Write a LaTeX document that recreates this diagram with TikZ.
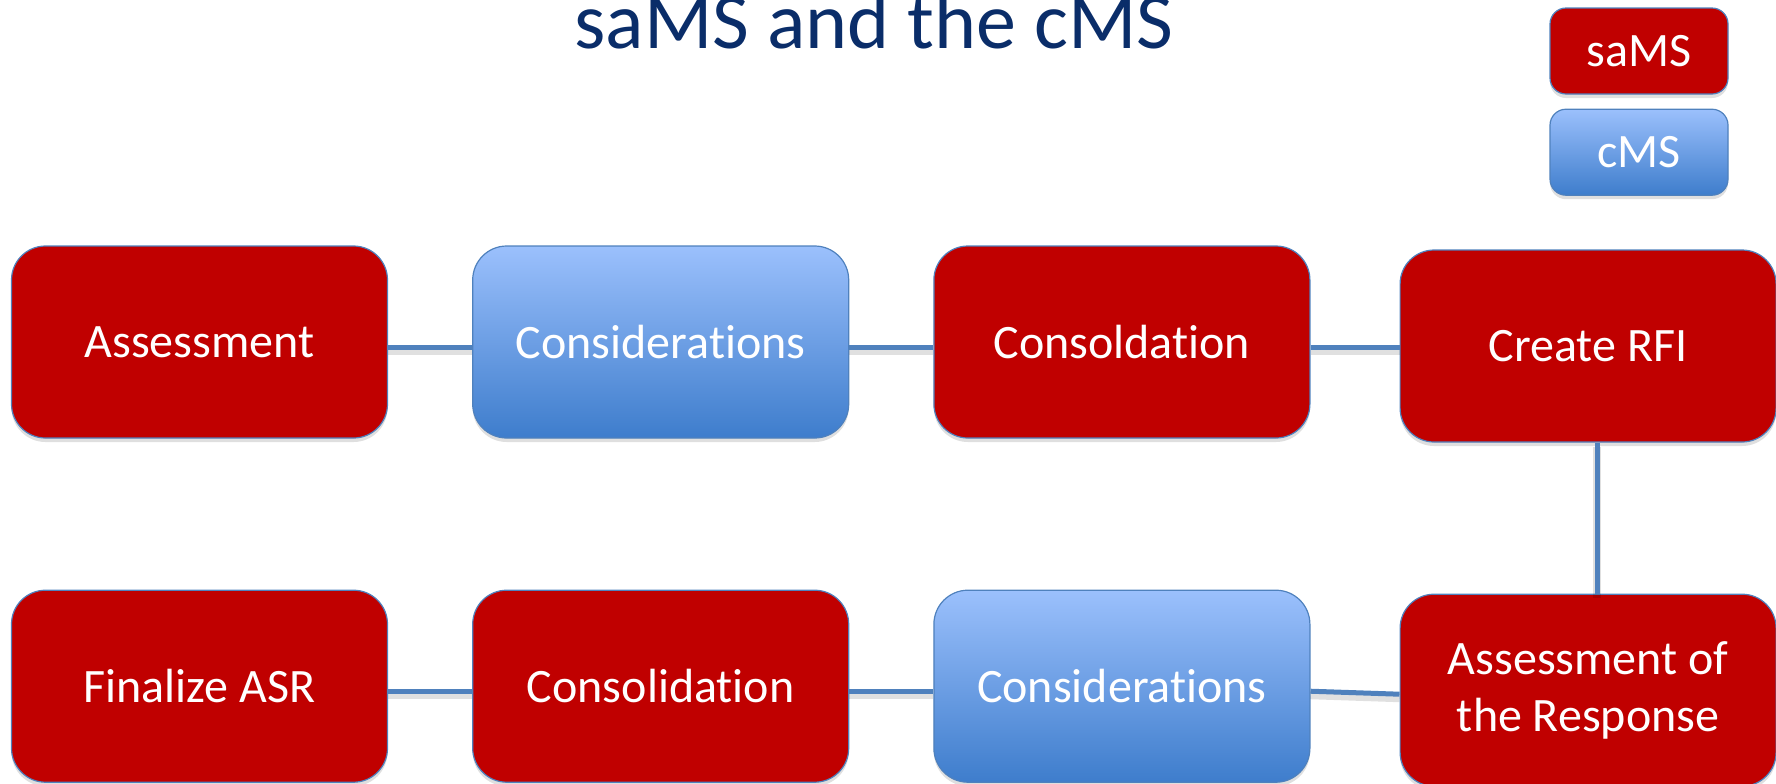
\documentclass[tikz,border=0pt]{standalone}
\usepackage{fontspec}
\setmainfont{Carlito}[Ligatures=NoCommon]
\usetikzlibrary{arrows.meta,positioning,shapes,shadows}

\definecolor{samsred}{HTML}{C00000}
\definecolor{cmstop}{RGB}{155,192,252}
\definecolor{cmsbot}{RGB}{62,125,204}
\definecolor{edgeblue}{RGB}{79,129,189}
\definecolor{titleblue}{RGB}{10,45,105}

\begin{document}
\begin{tikzpicture}[
  >=Latex,
  box/.style={draw=edgeblue, line width=0.6pt, rounded corners=17pt,
    minimum width=188pt, minimum height=96pt, align=center,
    text=white, font=\fontsize{24}{28.5}\selectfont,
    drop shadow={shadow xshift=0pt, shadow yshift=-2pt, opacity=0.25}},
  sams/.style={box, fill=samsred},
  cms/.style={box, top color=cmstop, bottom color=cmsbot},
  key/.style={minimum width=89pt, minimum height=43pt, rounded corners=8pt},
  link/.style={draw=edgeblue, line width=2.5pt,
    preaction={draw=black, opacity=0.12, line width=4pt,
      transform canvas={yshift=-2pt}}}
]

% Page frame
\useasboundingbox (0,0) rectangle (888pt,-391.5pt);

% Title
\node[anchor=base, text=titleblue, font=\fontsize{40}{48}\selectfont]
  (title) at (437pt,-24.3pt) {saMS and the cMS};

% Legend
\node[sams, key] (keysams) at (819.5pt,-25.5pt) {saMS};
\node[cms, key, below=7pt of keysams] (keycms) {cMS};

% Upper row
\node[sams] (assess) at (99.75pt,-171pt) {Assessment};
\node[cms, right=42pt of assess] (consid1) {Considerations};
\node[sams, right=42pt of consid1] (consold) {Consoldation};
\node[sams, right=44.5pt of consold, yshift=-2pt] (rfi) {Create RFI};

% Lower row
\node[sams, below=75pt of assess, yshift=-0.5pt] (finalize) {Finalize ASR};
\node[sams, right=42pt of finalize] (consol) {Consolidation};
\node[cms, right=42pt of consol] (consid2) {Considerations};
\node[sams, right=44.5pt of consid2, yshift=-2pt] (response) {Assessment of\\the Response};

% Connectors
\draw[link] ([yshift=-2.5pt]assess.east) -- ([yshift=-2.5pt]consid1.west);
\draw[link] ([yshift=-2.5pt]consid1.east) -- ([yshift=-2.5pt]consold.west);
\draw[link] ([yshift=-2.5pt]consold.east) -- ([yshift=-0.5pt]rfi.west);
\draw[link] ([xshift=4.5pt]rfi.south) -- ([xshift=4.5pt]response.north);
\draw[link] ([yshift=-2.5pt]finalize.east) -- ([yshift=-2.5pt]consol.west);
\draw[link] ([yshift=-2.5pt]consol.east) -- ([yshift=-2.5pt]consid2.west);
\draw[link] ([yshift=-2.5pt]consid2.east) -- ([yshift=-2pt]response.west);

\end{tikzpicture}
\end{document}
